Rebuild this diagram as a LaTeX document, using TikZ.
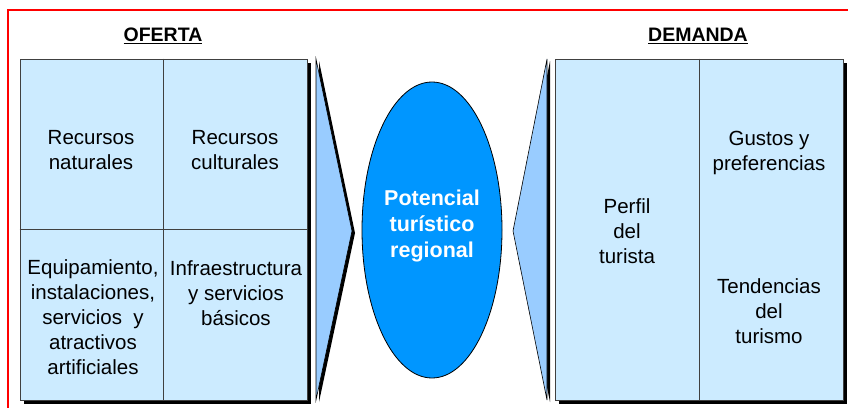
\documentclass[tikz,border=0pt]{standalone}
\usepackage{fontspec}
\setmainfont{Liberation Sans}
\usetikzlibrary{shapes.geometric,shadows}
\definecolor{celeste}{RGB}{204,235,255}
\definecolor{azulclaro}{RGB}{153,204,255}
\definecolor{azul}{RGB}{0,150,255}
\tikzset{
	caja/.style={draw=black!75, fill=celeste, line width=0.8pt, inner sep=0pt,
		drop shadow={shadow xshift=4pt, shadow yshift=-4pt, opacity=1, fill=black}},
	flecha/.style={draw=black, fill=azulclaro, line width=0.6pt,
		drop shadow={shadow xshift=3pt, shadow yshift=-2pt, opacity=1, fill=black}},
	texto/.style={font=\fontsize{20.5}{25}\selectfont, align=center, inner sep=0pt},
	titulo/.style={font=\bfseries\fontsize{19.5}{22}\selectfont, inner sep=0pt}
}
\begin{document}
\begin{tikzpicture}[x=1pt, y=-1pt]
	\useasboundingbox (0,0) rectangle (848,407);
	\draw[red, line width=1.5pt] (850,10) -- (8,10) -- (8,410);
	\node[titulo] (tOferta) at (163,36) {\underline{OFERTA}};
	\node[titulo] (tDemanda) at (698,36) {\underline{DEMANDA}};
	\node[caja, minimum width=287pt, minimum height=341pt] (oferta) at (163.5,229.5) {};
	\draw[black!75, line width=0.8pt] (oferta.north) -- (oferta.south);
	\draw[black!75, line width=0.8pt] (oferta.west) -- (oferta.east);
	\node[caja, minimum width=288pt, minimum height=341pt] (demanda) at (699,229.5) {};
	\draw[black!75, line width=0.8pt] (demanda.north) -- (demanda.south);
	\node[texto] (natur) at (91,150) {Recursos\\naturales};
	\node[texto] (cultur) at (235,150) {Recursos\\culturales};
	\node[texto] (equip) at (93,317) {Equipamiento,\\instalaciones,\\servicios \ y\\atractivos\\artificiales};
	\node[texto] (infra) at (236,293) {Infraestructura\\y servicios\\básicos};
	\node[texto] (perfil) at (627,231) {Perfil\\del\\turista};
	\node[texto] (gustos) at (769,153) {Gustos y\\preferencias};
	\node[texto] (tend) at (769,311) {Tendencias\\del\\turismo};
	\draw[flecha] (316,59) -- (352,231) -- (316,400) -- cycle;
	\draw[flecha] (547,59) -- (513,231) -- (547,400) -- cycle;
	\node[ellipse, draw=black, line width=0.8pt, fill=azul, minimum width=140pt, minimum height=296pt] (potencial) at (432,230) {};
	\node[text=white, font=\bfseries\fontsize{21.5}{26}\selectfont, align=center, inner sep=0pt] (potTxt) at (432,226)
		{Potencial\\turístico\\regional};
\end{tikzpicture}
\end{document}
